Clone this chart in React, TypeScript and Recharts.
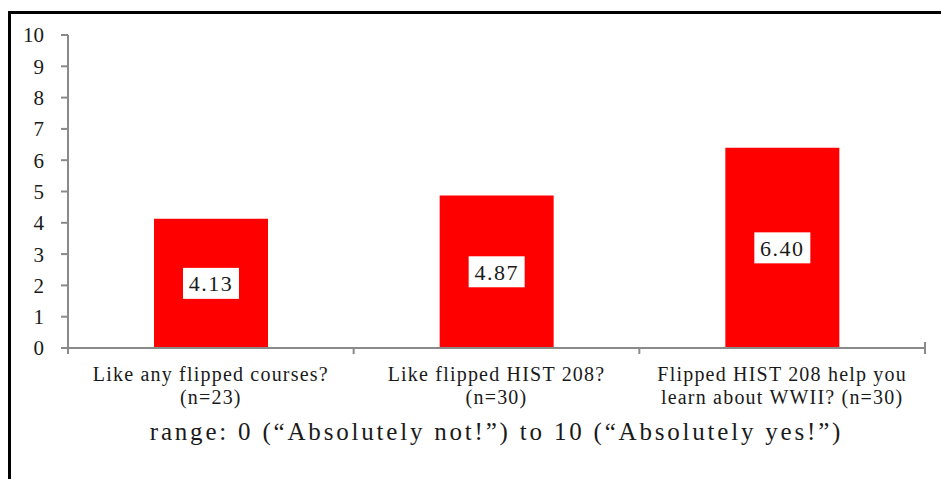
import React from 'react';
import { BarChart, Bar, XAxis, YAxis, LabelList, Label } from 'recharts';

const categories = ['Like any flipped courses?', 'Like flipped HIST 208?', 'Flipped HIST 208 help you learn about WWII?'];
const tickLine1 = ['Like any flipped courses?', 'Like flipped HIST 208?', 'Flipped HIST 208 help you'];
const tickLine2 = ['(n=23)', '(n=30)', 'learn about WWII? (n=30)'];
const values = [4.13, 4.87, 6.4];
const yTicks = [0, 1, 2, 3, 4, 5, 6, 7, 8, 9, 10];
const caption = 'range: 0 (\u201CAbsolutely not!\u201D) to 10 (\u201CAbsolutely yes!\u201D)';

const data = categories.map((name, i) => ({ name, value: values[i] }));

const W = 941;
const H = 479;
const M = { top: 35, right: 16, left: 0, bottom: 0 };
const YW = 68;
const XH = 131;
const PLOT_W = W - M.left - M.right - YW;
const BAND = PLOT_W / categories.length;
const FONT = '"Liberation Serif", "Times New Roman", serif';
const TEXT = '#1a1a1a';
const AXIS = '#8a8a8a';

const XTick = (props: any) => {
  const { x, y, index } = props;
  const half = BAND / 2;
  return (
    <g>
      <line x1={x - half} x2={x - half} y1={y} y2={y + 6} stroke={AXIS} strokeWidth={2} />
      {index === categories.length - 1 && (
        <line x1={x + half} x2={x + half} y1={y - 6} y2={y + 6} stroke={AXIS} strokeWidth={2} />
      )}
      <text x={x} y={y + 33} textAnchor="middle" fontFamily={FONT} fontSize={20} fill={TEXT} letterSpacing={1.2}>
        {tickLine1[index]}
      </text>
      <text x={x} y={y + 56} textAnchor="middle" fontFamily={FONT} fontSize={20} fill={TEXT} letterSpacing={1.2}>
        {tickLine2[index]}
      </text>
    </g>
  );
};

const BoxLabel = (props: any) => {
  const { x, y, width, height, value } = props;
  const cx = x + width / 2;
  const cy = y + height / 2;
  const bw = 56;
  const bh = 31;
  return (
    <g>
      <rect x={cx - bw / 2} y={cy - bh / 2} width={bw} height={bh} fill="#fff" />
      <text x={cx} y={cy + 8} textAnchor="middle" fontFamily={FONT} fontSize={22} fill={TEXT} letterSpacing={1.5}>
        {Number(value).toFixed(2)}
      </text>
    </g>
  );
};

const Caption = (props: any) => {
  const vb = props.viewBox || {};
  const cx = vb.x + vb.width / 2;
  return (
    <text x={cx} y={vb.y + 92} textAnchor="middle" fontFamily={FONT} fontSize={25} fill={TEXT} letterSpacing={2.8}>
      {caption}
    </text>
  );
};

export default function App() {
  return (
    <div style={{ position: 'absolute', left: 0, top: 0, width: W, height: H, overflow: 'hidden', background: '#fff' }}>
      <div
        style={{
          position: 'absolute',
          left: 8,
          top: 11,
          width: W,
          height: H,
          borderTop: '3px solid #000',
          borderLeft: '3px solid #000',
          boxSizing: 'border-box',
        }}
      />
      <div style={{ position: 'absolute', left: 0, top: 0 }}>
        <BarChart width={W} height={H} data={data} margin={M} barSize={114}>
          <YAxis
            type="number"
            domain={[0, 10]}
            ticks={yTicks}
            interval={0}
            width={YW}
            tickSize={7}
            tickMargin={17}
            axisLine={{ stroke: AXIS, strokeWidth: 2 }}
            tickLine={{ stroke: AXIS, strokeWidth: 2 }}
            tick={{ fontFamily: FONT, fontSize: 21, fill: TEXT }}
          />
          <XAxis
            dataKey="name"
            type="category"
            interval={0}
            height={XH}
            tickSize={0}
            tickMargin={0}
            tickLine={false}
            axisLine={{ stroke: AXIS, strokeWidth: 2 }}
            tick={<XTick />}
          >
            <Label content={<Caption />} position="insideTop" />
          </XAxis>
          <Bar dataKey="value" fill="#ff0000" isAnimationActive={false}>
            <LabelList dataKey="value" content={<BoxLabel />} />
          </Bar>
        </BarChart>
      </div>
    </div>
  );
}
